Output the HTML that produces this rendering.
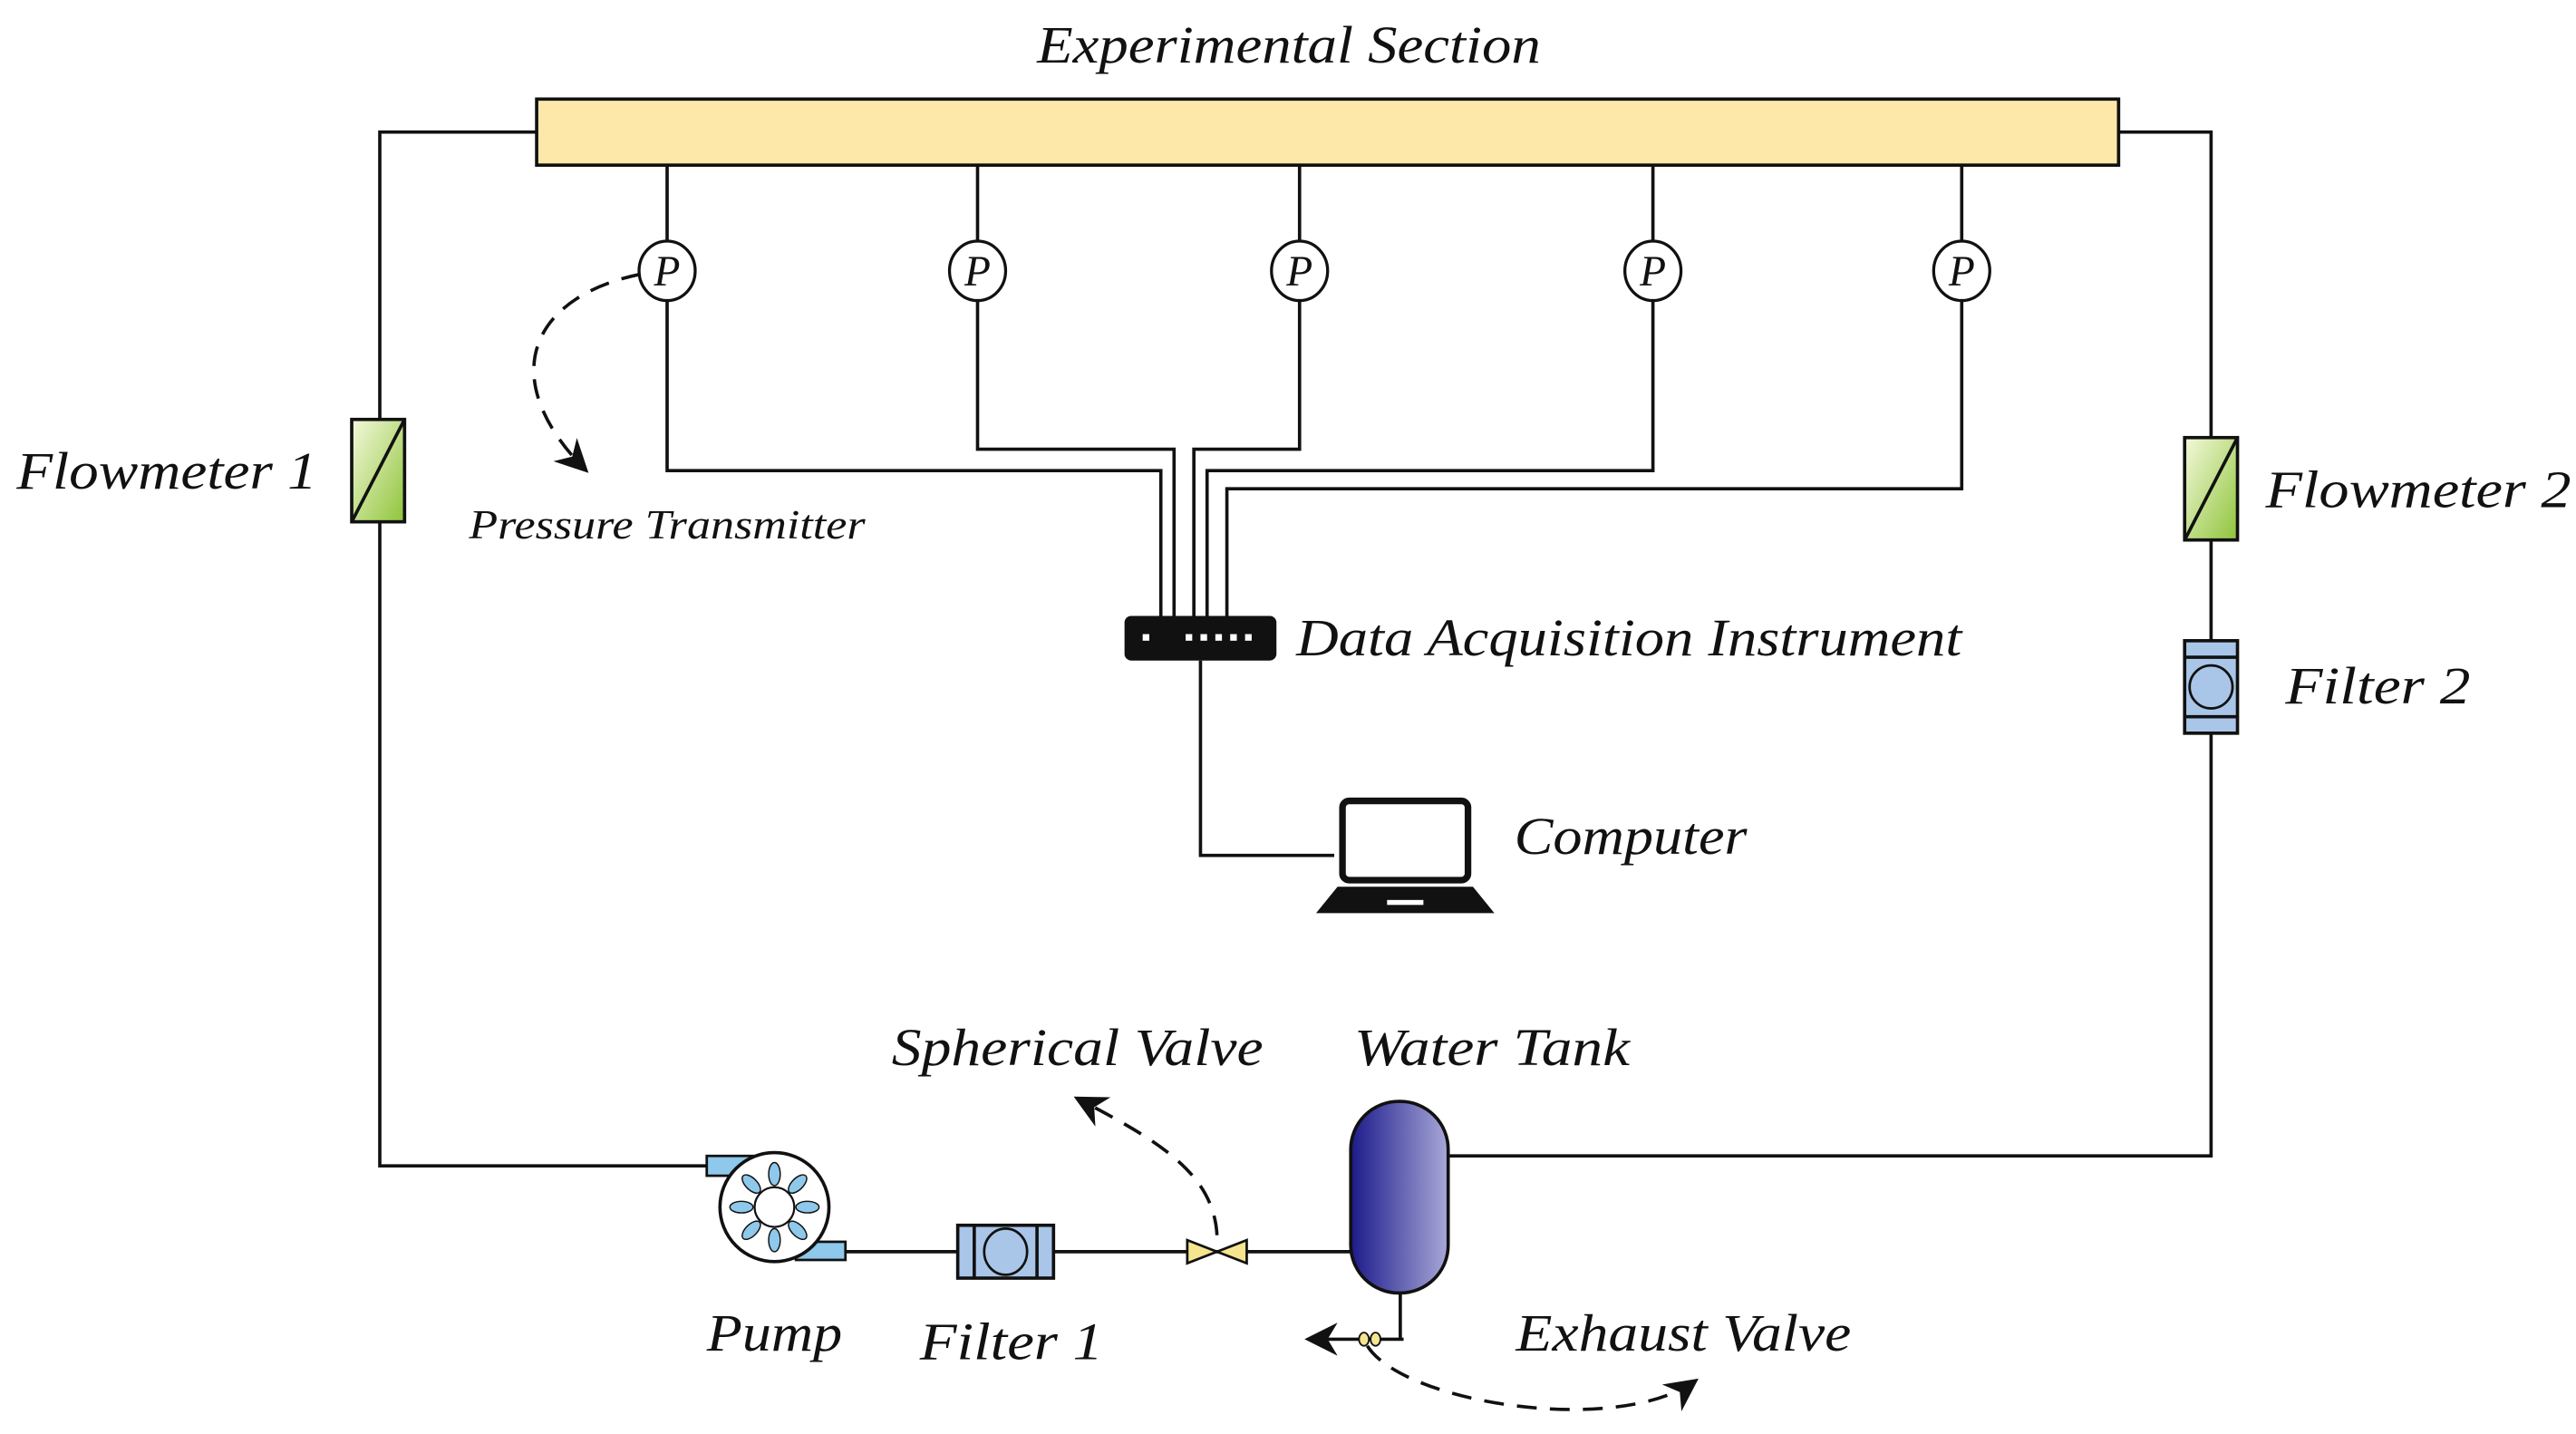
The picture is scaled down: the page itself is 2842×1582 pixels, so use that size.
<!DOCTYPE html>
<html><head><meta charset="utf-8"><style>
html,body{margin:0;padding:0;background:#fff;}
svg{display:block;}
text{font-family:"Liberation Serif",serif;font-style:italic;fill:#111;}
</style></head><body>
<svg width="2842" height="1582" viewBox="0 0 1560 868.4" preserveAspectRatio="none" xmlns="http://www.w3.org/2000/svg">
<defs>
<linearGradient id="fg" x1="0" y1="0" x2="1" y2="1"><stop offset="0" stop-color="#f4f9dc"/><stop offset="1" stop-color="#8fc43a"/></linearGradient>
<linearGradient id="tg" x1="0" y1="0" x2="1" y2="0"><stop offset="0" stop-color="#1c1a8a"/><stop offset="1" stop-color="#a8a8d8"/></linearGradient>
<marker id="ah" viewBox="0 0 10 10" refX="9" refY="5" markerWidth="10" markerHeight="10" orient="auto"><path d="M0,0 L10,5 L0,10 L3,5 z" fill="#111"/></marker>
</defs>
<g stroke="#111" stroke-width="2" fill="none">
<polyline points="325,80 230,80 230,706 430,706"/>
<polyline points="1283,80 1339,80 1339,700 877,700"/>
<line x1="512" y1="758" x2="818" y2="758"/>
<polyline points="404,100 404,147"/><polyline points="404,181 404,285 703,285 703,373"/>
<polyline points="592,100 592,147"/><polyline points="592,181 592,272 711,272 711,373"/>
<polyline points="787,100 787,147"/><polyline points="787,181 787,272 723,272 723,373"/>
<polyline points="1001,100 1001,147"/><polyline points="1001,181 1001,285 731,285 731,373"/>
<polyline points="1188,100 1188,147"/><polyline points="1188,181 1188,296 743,296 743,373"/>
<polyline points="727,400 727,518 808,518"/>
<line x1="848" y1="783" x2="848" y2="811"/>
</g>
<rect x="325" y="60" width="958" height="40" fill="#fde8a9" stroke="#111" stroke-width="2"/>
<g fill="#fff" stroke="#111" stroke-width="1.8">
<ellipse cx="404" cy="164" rx="17" ry="18"/><ellipse cx="592" cy="164" rx="17" ry="18"/><ellipse cx="787" cy="164" rx="17" ry="18"/><ellipse cx="1001" cy="164" rx="17" ry="18"/><ellipse cx="1188" cy="164" rx="17" ry="18"/>
</g>
<g font-size="26" text-anchor="middle"><text x="404" y="173">P</text><text x="592" y="173">P</text><text x="787" y="173">P</text><text x="1001" y="173">P</text><text x="1188" y="173">P</text></g>
<rect x="213" y="254" width="32" height="62" fill="url(#fg)" stroke="#111" stroke-width="2"/><line x1="213" y1="316" x2="245" y2="254" stroke="#111" stroke-width="2"/>
<rect x="1323" y="265" width="32" height="62" fill="url(#fg)" stroke="#111" stroke-width="2"/><line x1="1323" y1="327" x2="1355" y2="265" stroke="#111" stroke-width="2"/>
<rect x="1323" y="388" width="32" height="56" fill="#a9c6e8" stroke="#111" stroke-width="2"/>
<line x1="1323" y1="398" x2="1355" y2="398" stroke="#111" stroke-width="2"/><line x1="1323" y1="434" x2="1355" y2="434" stroke="#111" stroke-width="2"/>
<circle cx="1339" cy="416" r="13" fill="#a9c6e8" stroke="#111" stroke-width="1.5"/>
<rect x="681" y="373" width="92" height="27" rx="4" fill="#111"/>
<g fill="#fff"><rect x="692" y="384" width="4" height="4"/><rect x="718" y="384" width="4" height="4"/><rect x="727" y="384" width="4" height="4"/><rect x="736" y="384" width="4" height="4"/><rect x="745" y="384" width="4" height="4"/><rect x="754" y="384" width="4" height="4"/></g>
<rect x="813" y="485" width="76" height="48" rx="4" fill="#fff" stroke="#111" stroke-width="4"/>
<path d="M810,537 L892,537 L905,553 L797,553 Z" fill="#111"/><rect x="840" y="545" width="22" height="3" fill="#fff"/>
<rect x="428" y="700" width="28" height="12" fill="#8ec8ea" stroke="#111" stroke-width="1.5"/>
<rect x="482" y="752" width="30" height="11" fill="#8ec8ea" stroke="#111" stroke-width="1.5"/>
<ellipse cx="469" cy="731" rx="33" ry="33" fill="#fff" stroke="#111" stroke-width="2"/>
<g fill="#8ec8ea" stroke="#111" stroke-width="0.8">
<ellipse cx="469" cy="711" rx="3.5" ry="7"/><ellipse cx="469" cy="751" rx="3.5" ry="7"/><ellipse cx="449" cy="731" rx="7" ry="3.5"/><ellipse cx="489" cy="731" rx="7" ry="3.5"/>
<ellipse cx="455" cy="717" rx="3.5" ry="7" transform="rotate(-45 455 717)"/><ellipse cx="483" cy="717" rx="3.5" ry="7" transform="rotate(45 483 717)"/><ellipse cx="455" cy="745" rx="3.5" ry="7" transform="rotate(45 455 745)"/><ellipse cx="483" cy="745" rx="3.5" ry="7" transform="rotate(-45 483 745)"/>
</g>
<circle cx="469" cy="731" r="12" fill="#fff" stroke="#111" stroke-width="1.2"/>
<rect x="580" y="742" width="58" height="32" fill="#a9c6e8" stroke="#111" stroke-width="2"/>
<line x1="590" y1="742" x2="590" y2="774" stroke="#111" stroke-width="2"/><line x1="628" y1="742" x2="628" y2="774" stroke="#111" stroke-width="2"/>
<ellipse cx="609" cy="758" rx="13" ry="14" fill="#a9c6e8" stroke="#111" stroke-width="1.5"/>
<path d="M719,751 L755,765 L755,751 L719,765 Z" fill="#f6e58f" stroke="#111" stroke-width="1.5"/>
<rect x="818" y="667" width="59" height="116" rx="29" fill="url(#tg)" stroke="#111" stroke-width="2"/>
<line x1="850" y1="811" x2="792" y2="811" stroke="#111" stroke-width="2" marker-end="url(#ah)"/>
<ellipse cx="826" cy="811" rx="3" ry="4" fill="#f6e58f" stroke="#111" stroke-width="1"/><ellipse cx="833" cy="811" rx="3" ry="4" fill="#f6e58f" stroke="#111" stroke-width="1"/>
<g stroke="#111" stroke-width="2" fill="none" stroke-dasharray="12,8">
<path d="M388,166 C320,180 300,230 355,285" marker-end="url(#ah)"/>
<path d="M737,748 C735,710 700,690 652,665" marker-end="url(#ah)"/>
<path d="M828,815 C850,850 980,870 1027,836" marker-end="url(#ah)"/>
</g>
<g font-size="32">
<text x="628" y="38" textLength="305" lengthAdjust="spacingAndGlyphs">Experimental Section</text>
<text x="10" y="296" textLength="182" lengthAdjust="spacingAndGlyphs">Flowmeter 1</text>
<text x="785" y="397" textLength="403" lengthAdjust="spacingAndGlyphs">Data Acquisition Instrument</text>
<text x="917" y="517" textLength="141" lengthAdjust="spacingAndGlyphs">Computer</text>
<text x="1372" y="307" textLength="185" lengthAdjust="spacingAndGlyphs">Flowmeter 2</text>
<text x="1384" y="426" textLength="112" lengthAdjust="spacingAndGlyphs">Filter 2</text>
<text x="540" y="645" textLength="225" lengthAdjust="spacingAndGlyphs">Spherical Valve</text>
<text x="820" y="645" textLength="167" lengthAdjust="spacingAndGlyphs">Water Tank</text>
<text x="428" y="818" textLength="82" lengthAdjust="spacingAndGlyphs">Pump</text>
<text x="557" y="823" textLength="111" lengthAdjust="spacingAndGlyphs">Filter 1</text>
<text x="918" y="818" textLength="203" lengthAdjust="spacingAndGlyphs">Exhaust Valve</text>
</g>
<text x="284" y="326" font-size="25" textLength="240" lengthAdjust="spacingAndGlyphs">Pressure Transmitter</text>
</svg>
</body></html>
